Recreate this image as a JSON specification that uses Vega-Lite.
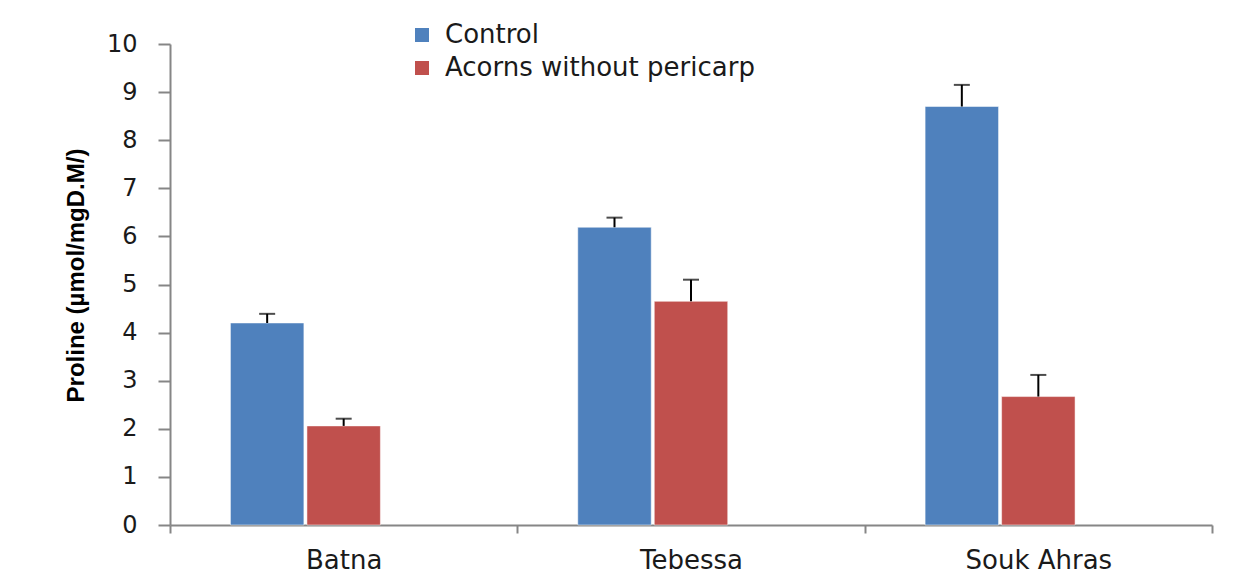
{
  "$schema": "https://vega.github.io/schema/vega-lite/v6.json",
  "width": 1042,
  "height": 481,
  "autosize": "none",
  "padding": {"left": 170, "top": 44, "right": 25, "bottom": 60},
  "background": "white",
  "config": {
    "view": {"stroke": null},
    "font": "DejaVu Sans"
  },
  "data": {
    "values": [
      {"site": "Batna", "group": "Control", "value": 4.2, "upper": 4.39},
      {"site": "Batna", "group": "Acorns without pericarp", "value": 2.06, "upper": 2.21},
      {"site": "Tebessa", "group": "Control", "value": 6.19, "upper": 6.39},
      {"site": "Tebessa", "group": "Acorns without pericarp", "value": 4.65, "upper": 5.1},
      {"site": "Souk Ahras", "group": "Control", "value": 8.7, "upper": 9.15},
      {"site": "Souk Ahras", "group": "Acorns without pericarp", "value": 2.67, "upper": 3.12}
    ]
  },
  "encoding": {
    "x": {
      "field": "site",
      "type": "nominal",
      "sort": ["Batna", "Tebessa", "Souk Ahras"],
      "scale": {"paddingInner": 0, "paddingOuter": 0},
      "axis": {
        "title": null,
        "labelAngle": 0,
        "labelFontSize": 26,
        "labelColor": "#1a1a1a",
        "labelPadding": 14,
        "tickBand": "extent",
        "tickSize": 8,
        "tickColor": "#868686",
        "domainColor": "#868686",
        "domainWidth": 2,
        "tickWidth": 2
      }
    },
    "xOffset": {
      "field": "group",
      "type": "nominal",
      "scale": {
        "domain": ["Control", "Acorns without pericarp", "Other"],
        "paddingInner": 0.04,
        "paddingOuter": 0.79
      }
    }
  },
  "layer": [
    {
      "mark": {"type": "bar", "stroke": "white", "strokeWidth": 0.5},
      "encoding": {
        "y": {
          "field": "value",
          "type": "quantitative",
          "scale": {"domain": [0, 10], "nice": false},
          "axis": {
            "title": "Proline (µmol/mgD.M/)",
            "titleFont": "Liberation Sans",
            "titleFontSize": 24,
            "titleFontWeight": "bold",
            "titleColor": "black",
            "titlePadding": 18,
            "titleY": 231,
            "values": [0, 1, 2, 3, 4, 5, 6, 7, 8, 9, 10],
            "grid": false,
            "labelFontSize": 24,
            "labelColor": "#1a1a1a",
            "labelPadding": 21,
            "tickSize": 12,
            "tickColor": "#868686",
            "tickWidth": 2,
            "domainColor": "#868686",
            "domainWidth": 2
          }
        },
        "color": {
          "field": "group",
          "type": "nominal",
          "scale": {
            "domain": ["Control", "Acorns without pericarp"],
            "range": ["#4F81BD", "#C0504D"]
          },
          "legend": {
            "title": null,
            "orient": "none",
            "legendX": 239,
            "legendY": -22,
            "symbolType": "square",
            "symbolSize": 196,
            "symbolStrokeWidth": 0,
            "symbolOpacity": 1,
            "labelFontSize": 26,
            "labelLimit": 0,
            "labelColor": "#1a1a1a",
            "labelOffset": 10,
            "rowPadding": 7
          }
        }
      }
    },
    {
      "mark": {"type": "rule", "color": "black", "strokeWidth": 2},
      "encoding": {
        "y": {"field": "value", "type": "quantitative"},
        "y2": {"field": "upper"}
      }
    },
    {
      "mark": {"type": "tick", "color": "black", "thickness": 2, "size": 16, "orient": "horizontal"},
      "encoding": {
        "y": {"field": "upper", "type": "quantitative"}
      }
    }
  ]
}
